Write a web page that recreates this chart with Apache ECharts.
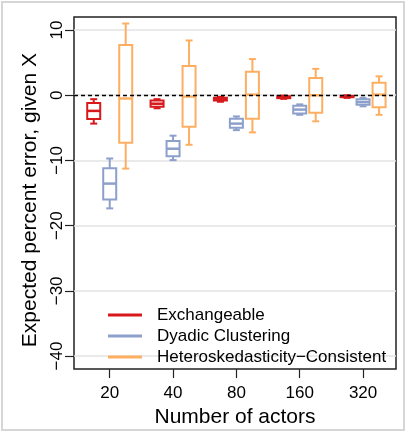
<!DOCTYPE html>
<html>
<head>
<meta charset="utf-8">
<script src="https://cdn.jsdelivr.net/npm/echarts@6/dist/echarts.min.js"></script>
<style>html,body{margin:0;padding:0;background:#fff}#c{width:408px;height:433px}</style>
</head>
<body>
<div id="c"></div>
<script>
// Categories (number of actors)
const categories = ['20', '40', '80', '160', '320'];
// Each row: [low whisker, Q1, median, Q3, high whisker]
const exchangeable = [
  [-4.35, -3.65, -2.4, -1.2, -0.6],
  [-2.0, -1.75, -1.3, -0.8, -0.6],
  [-1.0, -0.8, -0.6, -0.4, -0.25],
  [-0.55, -0.45, -0.3, -0.15, -0.05],
  [-0.4, -0.3, -0.2, -0.1, 0.0]
];
const dyadic = [
  [-17.35, -16.0, -13.55, -11.2, -9.7],
  [-9.95, -9.35, -8.2, -7.0, -6.2],
  [-5.35, -5.0, -4.35, -3.6, -3.25],
  [-3.0, -2.8, -2.2, -1.6, -1.4],
  [-1.7, -1.45, -1.05, -0.6, -0.4]
];
const hc = [
  [-11.25, -7.3, -0.5, 7.7, 11.0],
  [-7.6, -4.85, -0.2, 4.5, 8.4],
  [-5.7, -3.6, 0.1, 3.6, 5.55],
  [-4.0, -2.7, 0.0, 2.65, 4.05],
  [-3.0, -1.85, 0.1, 1.9, 2.9]
];
const yTicks = [-40, -30, -20, -10, 0, 10];
const seriesNames = ['Exchangeable', 'Dyadic Clustering', 'Heteroskedasticity\u2212Consistent'];
const colors = ['#d7191c', '#8da0cb', '#fdae61'];

const xPos = categories.map((c, i) => i + 1);
const font = 'Liberation Sans, Arial, Helvetica, sans-serif';

function toData(arr) {
  return arr.map((r, i) => [xPos[i]].concat(r));
}
function fmtNum(v) {
  return v < 0 ? '\u2212' + (-v) : String(v);
}

function makeRender(offsetPx) {
  return function (params, api) {
    const x = api.value(0);
    const p = api.coord([x, api.value(1)]);
    const cx = p[0] + offsetPx;
    const yLow = p[1];
    const yQ1 = api.coord([x, api.value(2)])[1];
    const yMed = api.coord([x, api.value(3)])[1];
    const yQ3 = api.coord([x, api.value(4)])[1];
    const yHigh = api.coord([x, api.value(5)])[1];
    const color = api.visual('color');
    const hw = 6.5, cw = 3.5, lw = 2;
    const ls = { stroke: color, lineWidth: lw };
    return {
      type: 'group',
      children: [
        { type: 'line', shape: { x1: cx, y1: yHigh, x2: cx, y2: yQ3 }, style: ls },
        { type: 'line', shape: { x1: cx, y1: yLow, x2: cx, y2: yQ1 }, style: ls },
        { type: 'line', shape: { x1: cx - cw, y1: yHigh, x2: cx + cw, y2: yHigh }, style: ls },
        { type: 'line', shape: { x1: cx - cw, y1: yLow, x2: cx + cw, y2: yLow }, style: ls },
        { type: 'rect', shape: { x: cx - hw, y: yQ3, width: 2 * hw, height: yQ1 - yQ3 },
          style: { fill: '#fff', stroke: color, lineWidth: lw } },
        { type: 'line', shape: { x1: cx - hw, y1: yMed, x2: cx + hw, y2: yMed },
          style: { stroke: color, lineWidth: 2.5 } }
      ]
    };
  };
}

const allData = [exchangeable, dyadic, hc];
const offsets = [-16, 0, 16];

const series = allData.map((arr, k) => ({
  type: 'custom',
  name: seriesNames[k],
  data: toData(arr),
  encode: { x: 0, y: [1, 2, 3, 4, 5] },
  itemStyle: { color: colors[k] },
  renderItem: makeRender(offsets[k]),
  z: 3
}));
series[2].markLine = {
  silent: true,
  symbol: 'none',
  label: { show: false },
  lineStyle: { color: '#000', type: [4, 3], width: 1.3 },
  data: [{ yAxis: 0 }],
  z: 5
};

const chart = echarts.init(document.getElementById('c'), null, { renderer: 'canvas' });
chart.setOption({
  animation: false,
  backgroundColor: '#fff',
  textStyle: { fontFamily: font },
  grid: {
    left: 74, right: 12, top: 17, bottom: 58,
    show: true, borderColor: '#222', borderWidth: 1.5, backgroundColor: 'transparent'
  },
  legend: {
    orient: 'vertical',
    left: 103,
    top: 300,
    itemWidth: 34,
    itemHeight: 3,
    itemGap: 1,
    icon: 'rect',
    data: seriesNames,
    textStyle: { fontSize: 17, color: '#000', lineHeight: 20, padding: [0, 0, 0, 10], fontFamily: font }
  },
  xAxis: {
    type: 'value',
    min: 0.436,
    max: 5.52,
    name: 'Number of actors',
    nameLocation: 'middle',
    nameGap: 36,
    nameTextStyle: { fontSize: 21, color: '#000', fontFamily: font },
    axisLine: { show: false, onZero: false },
    splitLine: { show: false },
    axisTick: { show: true, length: 9, lineStyle: { color: '#222', width: 1.2 }, customValues: xPos },
    axisLabel: {
      customValues: xPos,
      fontSize: 17, color: '#000', margin: 16,
      formatter: v => categories[Math.round(v) - 1] || ''
    }
  },
  yAxis: {
    type: 'value',
    min: -42,
    max: 12,
    name: 'Expected percent error, given X',
    nameLocation: 'middle',
    nameGap: 30,
    nameRotate: 90,
    nameTextStyle: { fontSize: 21, color: '#000', fontFamily: font, padding: [0, 14, 0, 0] },
    axisLine: { show: false, onZero: false },
    axisTick: { show: true, length: 9, lineStyle: { color: '#222', width: 1.2 }, customValues: yTicks },
    splitLine: { show: true, lineStyle: { color: '#e3e3e3', width: 1.5 } },
    axisLabel: {
      customValues: yTicks,
      rotate: 90,
      fontSize: 17, color: '#000', margin: 8,
      formatter: v => fmtNum(v)
    }
  },
  graphic: [{
    type: 'rect',
    shape: { x: 2, y: 2, width: 402, height: 428 },
    style: { fill: 'none', stroke: '#d6d6d6', lineWidth: 2 },
    silent: true,
    z: -10
  }],
  series: series
});
</script>
</body>
</html>
